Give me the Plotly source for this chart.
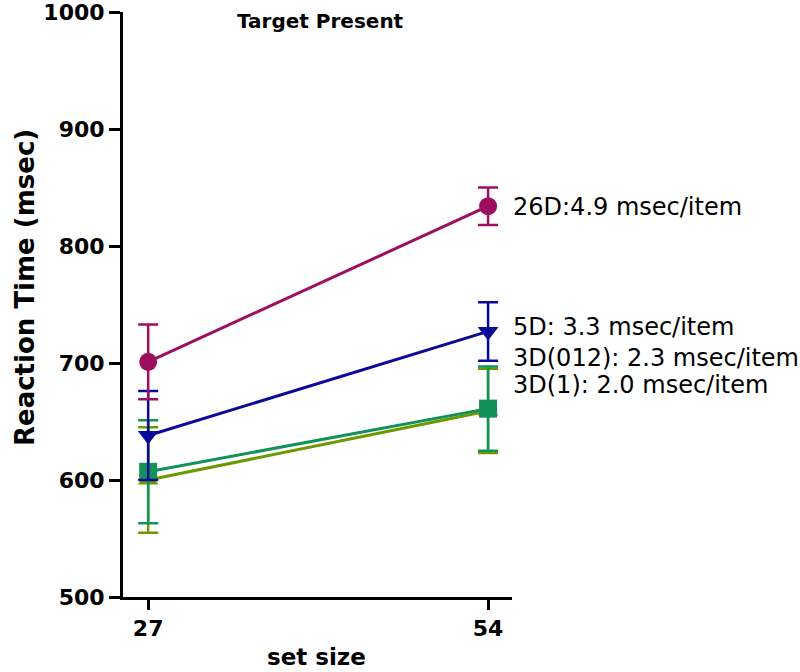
import plotly.graph_objects as go

set_sizes = [27, 54]
series_names = ["3D(1)", "3D(012)", "5D", "26D"]
rt_3d1 = [600, 659]
err_3d1 = [45, 36]
rt_3d012 = [607, 661]
err_3d012 = [44, 36]
rt_5d = [638, 727]
err_5d = [38, 25]
rt_26d = [701, 834]
err_26d = [32, 16]
labels = ["3D(1): 2.0 msec/item", "3D(012): 2.3 msec/item", "5D: 3.3 msec/item", "26D:4.9 msec/item"]
label_y = [681, 704, 731, 833]
y_ticks = [500, 600, 700, 800, 900, 1000]

colors = ["#6a9a00", "#12915a", "#0a0a9a", "#9c0e5e"]
symbols = ["triangle-up", "square", "triangle-down", "circle"]
values = [rt_3d1, rt_3d012, rt_5d, rt_26d]
errors = [err_3d1, err_3d012, err_5d, err_26d]

FONT = "DejaVu Sans"

fig = go.Figure()
for name, v, e, c, s in zip(series_names, values, errors, colors, symbols):
    fig.add_trace(go.Scatter(
        x=set_sizes, y=v, name=name, mode="lines+markers",
        line=dict(color=c, width=3),
        marker=dict(color=c, symbol=s, size=18),
        error_y=dict(type="data", array=e, visible=True, color=c, thickness=2.5, width=10),
        showlegend=False,
    ))

for lab, ly in zip(labels, label_y):
    fig.add_annotation(x=1.0, xref="paper", xanchor="left", xshift=-1,
                       y=ly, yref="y", yanchor="middle",
                       text=lab, showarrow=False,
                       font=dict(family=FONT, size=24, color="black"))

# chart title
fig.add_annotation(x=(320 - 123) / (512 - 123), xref="paper",
                   y=1.0 - (21 - 12) / 585, yref="paper",
                   xanchor="center", yanchor="middle", showarrow=False,
                   text="<b>Target Present</b>",
                   font=dict(family=FONT, size=20, color="black"))
# y axis title
fig.add_annotation(x=(25 - 123) / (512 - 123), xref="paper",
                   y=(597 - 288) / 585, yref="paper",
                   xanchor="center", yanchor="middle", showarrow=False, textangle=-90,
                   text="<b>Reaction Time (msec)</b>",
                   font=dict(family=FONT, size=26, color="black"))
# x axis title
fig.add_annotation(x=(316 - 123) / (512 - 123), xref="paper",
                   y=(597 - 657) / 585, yref="paper",
                   xanchor="center", yanchor="middle", showarrow=False,
                   text="<b>set size</b>",
                   font=dict(family=FONT, size=23, color="black"))

axis_font = dict(family=FONT, size=22, color="black")
fig.update_layout(
    width=800, height=672,
    margin=dict(l=123, r=288, t=12, b=75),
    plot_bgcolor="white", paper_bgcolor="white",
    xaxis=dict(range=[25, 55.9], tickvals=set_sizes, ticktext=["<b>%d</b>" % t for t in set_sizes],
               showgrid=False, zeroline=False, showline=True, linecolor="black", linewidth=3,
               ticks="outside", ticklen=10, tickwidth=3, tickcolor="black",
               tickfont=axis_font, automargin=False, ticklabeloverflow="allow"),
    yaxis=dict(range=[500, 1000], tickvals=y_ticks,
               ticktext=["<b>%d</b>" % t for t in y_ticks],
               showgrid=False, zeroline=False, showline=True, linecolor="black", linewidth=3,
               ticks="outside", ticklen=11, tickwidth=3, tickcolor="black",
               tickfont=axis_font, automargin=False, ticklabeloverflow="allow"),
)

fig.write_html("out.html", config={"displayModeBar": False},
               post_script="document.body.style.margin='0px';")
